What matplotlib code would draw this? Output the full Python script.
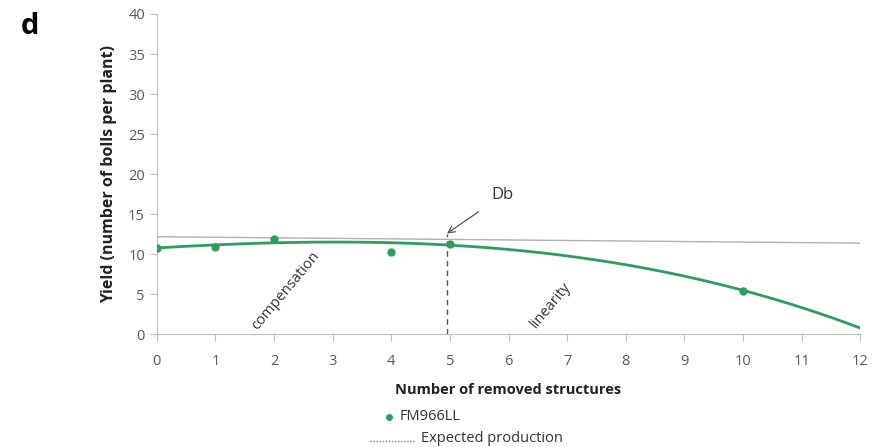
import numpy as np
import matplotlib.pyplot as plt
from matplotlib.lines import Line2D

plt.rcParams['font.family'] = ['Open Sans', 'DejaVu Sans']

# FM966LL: yield versus number of removed structures
removed = [0, 1, 2, 4, 5, 10]
bolls = [10.8, 10.9, 11.9, 10.3, 11.3, 5.4]

# cubic trend line (highest power first)
trend_coef = [-0.00457, -0.0513, 0.441, 10.8]
trend_range = [0, 12]

# expected production line
expected_x = [0, 12]
expected_y = [12.2, 11.4]

# breaking point Db
db_x = 4.95
db_y = 12.6

green = '#2e9e5e'
grey_txt = '#595959'

fig = plt.figure(figsize=(8.76, 4.47), dpi=100)
ax = fig.add_axes([0.179, 0.2517, 0.803, 0.717])

xs = np.linspace(trend_range[0], trend_range[1], 200)
ax.plot(xs, np.polyval(trend_coef, xs), color=green, lw=2.0, zorder=3)
ax.plot(removed, bolls, 'o', color=green, ms=5, zorder=4)
ax.plot(expected_x, expected_y, color='#b0b0b0', lw=1.0, zorder=2)

ax.plot([db_x, db_x], [0, db_y], color='#555555', lw=1.0, ls=(0, (4, 3)), zorder=2)
ax.annotate('Db', xy=(db_x, db_y), xytext=(5.9, 17.4), fontsize=12, color='#333333',
            ha='center', va='center',
            arrowprops=dict(arrowstyle='->', color='#555555', lw=0.9,
                            shrinkA=9, shrinkB=0))

ax.text(2.2, 5.4, 'compensation', rotation=50, fontsize=10.5, color='#333333',
        ha='center', va='center')
ax.text(6.72, 3.7, 'linearity', rotation=50, fontsize=10.5, color='#333333',
        ha='center', va='center')

ax.set_xlim(0, 12)
ax.set_ylim(0, 40)
ax.set_xticks(range(0, 13))
ax.set_yticks(range(0, 41, 5))
for s in ['top', 'right']:
    ax.spines[s].set_visible(False)
for s in ['left', 'bottom']:
    ax.spines[s].set_color('#bdbdbd')
ax.tick_params(colors='#bdbdbd', labelcolor=grey_txt, labelsize=10.5, length=5)
ax.tick_params(axis='x', pad=9)

ax.set_ylabel('Yield (number of bolls per plant)', fontsize=11.5, fontweight='bold',
              color='#222222', labelpad=8)
ax.set_xlabel('Number of removed structures', fontsize=10.5, fontweight='bold',
              color='#222222', labelpad=10)

fig.text(0.034, 0.94, 'd', fontsize=21, fontweight='bold', ha='center', va='center')

# legend under the axis title
fig.add_artist(Line2D([389 / 876], [1 - 417 / 447], marker='o', color=green, ms=4,
                      ls='none', transform=fig.transFigure))
fig.text(400 / 876, 1 - 417 / 447, 'FM966LL', fontsize=10.5, color='#333333',
         va='center')
fig.add_artist(Line2D([370 / 876, 415 / 876], [1 - 441 / 447, 1 - 441 / 447],
                      color='#777777', lw=1.0, ls=(0, (1, 1.2)),
                      transform=fig.transFigure))
fig.text(421 / 876, 1 - 439 / 447, 'Expected production', fontsize=10.5,
         color='#333333', va='center')

fig.savefig('out.png', dpi=100)
